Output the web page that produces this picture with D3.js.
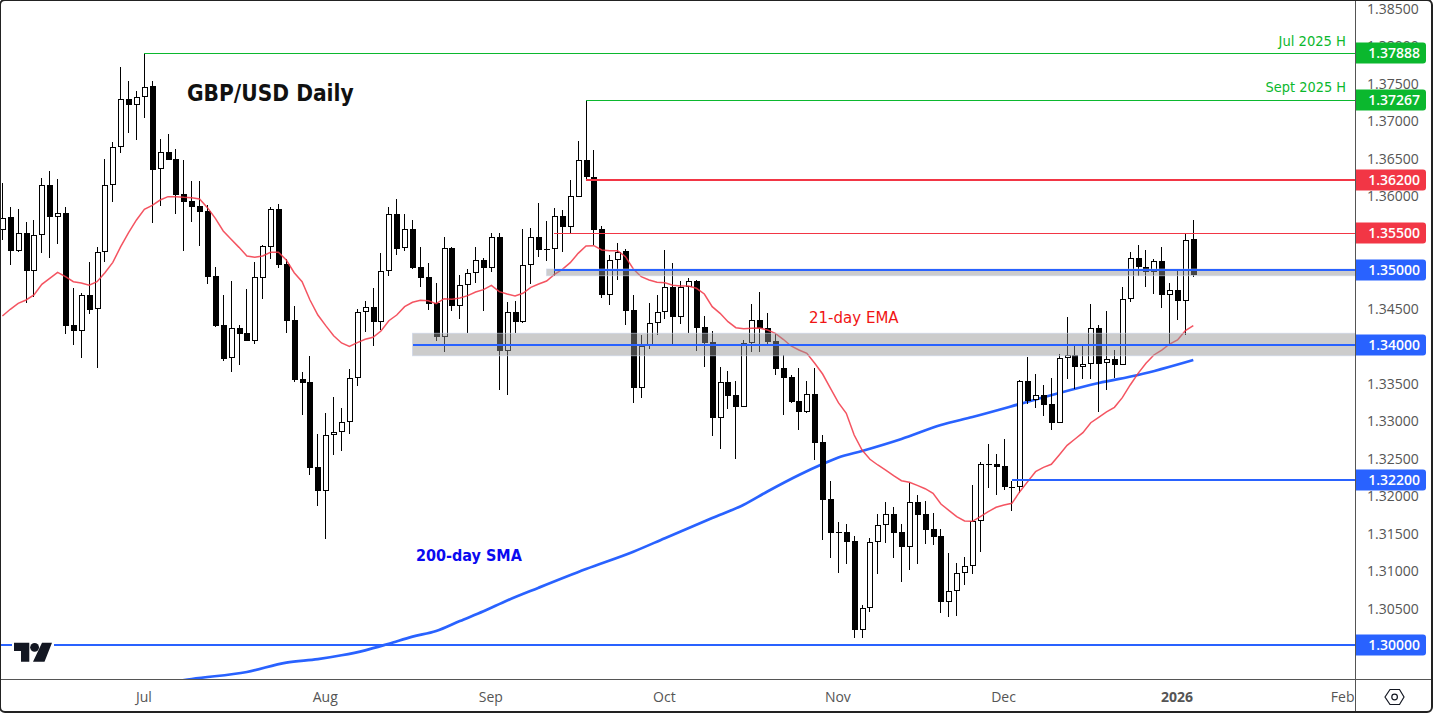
<!DOCTYPE html>
<html><head><meta charset="utf-8">
<script src="https://cdn.jsdelivr.net/npm/d3@7"></script>
<style>html,body{margin:0;padding:0;background:#fff}svg{display:block}</style>
</head><body><svg id="c" width="1433" height="715"></svg>
<script>
const opens=[1.35529,1.35702,1.35258,1.35489,1.34991,1.35462,1.36129,1.35711,1.35755,1.34262,
1.34191,1.34662,1.34476,1.35235,1.36129,1.36635,1.37275,1.37204,1.37311,1.37453,
1.36342,1.36569,1.36480,1.36009,1.35920,1.35853,1.35787,1.34916,1.34267,1.33822,
1.34227,1.34156,1.34053,1.34898,1.35311,1.35809,1.35076,1.34329,1.33547,1.33502,
1.32369,1.32058,1.32796,1.32836,1.32969,1.33556,1.34436,1.34502,1.34311,1.34982,
1.35742,1.35289,1.35542,1.35036,1.34902,1.34556,1.34111,1.35289,1.34524,1.34796,
1.34956,1.35129,1.35031,1.35436,1.33924,1.34436,1.34311,1.35062,1.35436,1.35276,
1.35276,1.35716,1.35578,1.35978,1.36462,1.36244,1.35542,1.34671,1.35129,1.35249,
1.34462,1.33431,1.33987,1.34289,1.34436,1.34769,1.34378,1.34769,1.34849,1.34236,
1.34036,1.33031,1.33502,1.33329,1.33178,1.34022,1.34329,1.34222,1.34049,1.33689,
1.33569,1.33249,1.33111,1.33342,1.32702,1.31942,1.31502,1.31502,1.31382,1.30204,
1.30489,1.31369,1.31596,1.31742,1.31502,1.31311,1.31902,1.31742,1.31542,1.31449,
1.30578,1.30716,1.30956,1.31049,1.31649,1.32409,1.32409,1.32382,1.32111,1.32111,
1.33516,1.33262,1.33329,1.33209,1.32964,1.33822,1.33862,1.33711,1.33742,1.34222,
1.33756,1.33809,1.33738,1.34609,1.35156,1.35036,1.34978,1.35116,1.34671,1.34729,1.34591,1.35409];
const highs=[1.36155,1.35835,1.35809,1.35635,1.35667,1.36222,1.36315,1.36209,1.35835,1.34760,
1.34689,1.35102,1.35302,1.36480,1.36702,1.37702,1.37515,1.37391,1.37888,1.37515,
1.36742,1.36809,1.36609,1.36462,1.36187,1.36187,1.35867,1.35036,1.34662,1.34849,
1.34267,1.34747,1.35102,1.35333,1.35835,1.35876,1.35142,1.34516,1.33640,1.33849,
1.32809,1.33089,1.33302,1.33156,1.33676,1.34476,1.34587,1.34760,1.35222,1.35836,
1.35942,1.35747,1.35662,1.35307,1.35089,1.34822,1.35436,1.35302,1.34929,1.35013,
1.35302,1.35156,1.35489,1.35489,1.34569,1.34582,1.35542,1.35556,1.35889,1.35649,
1.35822,1.35796,1.36196,1.36716,1.37267,1.36600,1.35587,1.35200,1.35356,1.35276,
1.34662,1.34133,1.34556,1.34662,1.35267,1.35089,1.34849,1.34889,1.34867,1.34382,
1.34182,1.33707,1.33653,1.33520,1.34067,1.34542,1.34702,1.34422,1.34156,1.33862,
1.33596,1.33689,1.33516,1.33689,1.32796,1.32182,1.31636,1.31613,1.31449,1.30529,
1.31422,1.31742,1.31902,1.31840,1.31609,1.32156,1.31996,1.31916,1.31756,1.31542,
1.31222,1.31089,1.31169,1.32129,1.32436,1.32680,1.32547,1.32742,1.32187,1.33529,
1.33840,1.33613,1.33467,1.33560,1.33876,1.34373,1.33996,1.33996,1.34547,1.34262,
1.34449,1.33933,1.34769,1.35240,1.35333,1.35267,1.35142,1.35302,1.34827,1.34991,1.35489,1.35667];
const lows=[1.35400,1.35067,1.35240,1.34564,1.34644,1.35231,1.35160,1.35347,1.34151,1.34000,
1.33827,1.34413,1.33698,1.35107,1.35907,1.36564,1.36826,1.36733,1.37026,1.35627,
1.35853,1.36467,1.35747,1.35253,1.35640,1.35320,1.34813,1.34240,1.33787,1.33640,
1.33733,1.34053,1.34013,1.34613,1.35147,1.35022,1.34160,1.33511,1.33067,1.32267,
1.31858,1.31418,1.32533,1.32591,1.32818,1.33458,1.34173,1.33991,1.34200,1.34924,
1.35204,1.35253,1.35013,1.34778,1.34467,1.34053,1.33907,1.34458,1.34347,1.34160,
1.34827,1.34453,1.34973,1.33400,1.33333,1.34160,1.34289,1.34813,1.35173,1.35120,
1.34924,1.35240,1.35489,1.35978,1.36200,1.35333,1.34631,1.34538,1.34867,1.34267,
1.33231,1.33298,1.33947,1.34133,1.34347,1.34009,1.34280,1.34164,1.33924,1.33711,
1.32791,1.32618,1.33151,1.32484,1.33169,1.33911,1.33911,1.34009,1.33600,1.33062,
1.33231,1.32867,1.33098,1.32467,1.31400,1.31160,1.30964,1.31080,1.30098,1.30098,
1.30444,1.30951,1.31360,1.31160,1.30844,1.31000,1.31080,1.31347,1.31333,1.30427,
1.30373,1.30387,1.30800,1.30947,1.31240,1.32093,1.32000,1.32062,1.31787,1.32022,
1.33213,1.33160,1.33053,1.32867,1.32964,1.33547,1.33409,1.33547,1.33547,1.33107,
1.33400,1.33560,1.33738,1.34573,1.34920,1.34769,1.34680,1.34493,1.34013,1.34333,1.34133,1.34911];
const closes=[1.35698,1.35258,1.35489,1.34991,1.35462,1.36129,1.35711,1.35755,1.34258,1.34191,
1.34662,1.34467,1.35235,1.36129,1.36635,1.37275,1.37204,1.37311,1.37444,1.36333,
1.36569,1.36467,1.36000,1.35907,1.35840,1.35773,1.34907,1.34253,1.33813,1.34222,
1.34147,1.34053,1.34902,1.35316,1.35809,1.35067,1.34324,1.33538,1.33498,1.32364,
1.32058,1.32796,1.32836,1.32969,1.33556,1.34436,1.34502,1.34311,1.34982,1.35742,
1.35280,1.35542,1.35027,1.34898,1.34547,1.34111,1.35289,1.34520,1.34796,1.34956,
1.35129,1.35031,1.35436,1.33920,1.34436,1.34311,1.35062,1.35436,1.35271,1.35276,
1.35716,1.35578,1.35982,1.36462,1.36240,1.35533,1.34671,1.35129,1.35244,1.34458,
1.33431,1.33987,1.34289,1.34436,1.34769,1.34378,1.34769,1.34849,1.34227,1.34031,
1.33031,1.33502,1.33324,1.33178,1.34022,1.34329,1.34222,1.34044,1.33684,1.33564,
1.33244,1.33111,1.33342,1.32698,1.31938,1.31498,1.31502,1.31378,1.30204,1.30489,
1.31369,1.31596,1.31742,1.31498,1.31311,1.31902,1.31738,1.31538,1.31444,1.30578,
1.30716,1.30956,1.31049,1.31649,1.32409,1.32409,1.32378,1.32111,1.32111,1.33516,
1.33258,1.33329,1.33200,1.32964,1.33822,1.33862,1.33711,1.33742,1.34222,1.33747,
1.33809,1.33738,1.34609,1.35156,1.35036,1.34978,1.35116,1.34671,1.34729,1.34591,1.35396,1.34938];
const ema21=[1.34387,1.34476,1.34556,1.34600,1.34667,1.34809,1.34889,1.34969,1.34911,1.34844,
1.34827,1.34796,1.34844,1.34964,1.35102,1.35311,1.35498,1.35667,1.35809,1.35862,
1.35933,1.35978,1.35978,1.35969,1.35964,1.35947,1.35831,1.35689,1.35520,1.35409,
1.35302,1.35187,1.35169,1.35187,1.35236,1.35236,1.35133,1.34964,1.34844,1.34600,
1.34400,1.34258,1.34124,1.34027,1.33982,1.34031,1.34076,1.34102,1.34187,1.34324,
1.34400,1.34511,1.34569,1.34596,1.34591,1.34551,1.34618,1.34609,1.34627,1.34658,
1.34707,1.34738,1.34796,1.34711,1.34680,1.34653,1.34689,1.34769,1.34813,1.34853,
1.34942,1.35009,1.35098,1.35222,1.35320,1.35324,1.35267,1.35258,1.35258,1.35178,
1.35013,1.34911,1.34867,1.34836,1.34831,1.34796,1.34787,1.34787,1.34756,1.34680,
1.34511,1.34422,1.34311,1.34231,1.34218,1.34222,1.34227,1.34200,1.34156,1.34076,
1.33987,1.33933,1.33889,1.33756,1.33613,1.33422,1.33231,1.33089,1.32800,1.32600,
1.32476,1.32400,1.32333,1.32258,1.32191,1.32169,1.32129,1.32084,1.32022,1.31880,
1.31796,1.31711,1.31653,1.31649,1.31711,1.31778,1.31836,1.31867,1.31889,1.32044,
1.32178,1.32311,1.32369,1.32409,1.32533,1.32662,1.32747,1.32831,1.32964,1.33036,
1.33107,1.33169,1.33298,1.33467,1.33622,1.33756,1.33867,1.33933,1.34013,1.34067,1.34191,1.34258];
const smaBars=[20,24,31,36,40,43,46,49,52,55,58,61,64,68,74,80,84,90,94,97,101,104,106,109,114,119,123,129,134,139,144,151];
const sma200=[1.29480,1.29547,1.29640,1.29765,1.29812,1.29863,1.29929,1.30017,1.30111,1.30187,1.30320,1.30449,1.30593,1.30764,1.31013,1.31244,1.31424,1.31693,1.31871,1.32047,1.32267,1.32413,1.32500,1.32587,1.32747,1.32933,1.33040,1.33213,1.33360,1.33493,1.33600,1.33800];

const priceTicks=[1.385,1.38,1.375,1.37,1.365,1.36,1.355,1.35,1.345,1.34,1.335,1.33,1.325,1.32,1.315,1.31,1.305,1.30];
const monthNames=["Jul","Aug","Sep","Oct","Nov","Dec","2026","Feb"];
const monthBars=[18,41,62,84,106,127,149,170];

const levelPrices=[1.37888,1.37267,1.362,1.355,1.35,1.34,1.322,1.30];
const levelStarts=[18,74,74,70,70,52,128,-1];
const levelColors=["#0bb82e","#0bb82e","#f23645","#f23645","#2962ff","#2962ff","#2962ff","#2962ff"];
const levelWidths=[1,1,2,1,2,2,2,2];
const bandStarts=[52,69];
const bandTops=[1.34156,1.35013];
const bandBottoms=[1.33857,1.34924];

const font="'Open Sans',sans-serif";
const noteFont="'DejaVu Sans Condensed','DejaVu Sans',sans-serif";
const W=1355,H=679;
const x=d3.scaleLinear().domain([0,151]).range([2.4,1193.3]);
const y=d3.scaleLinear().domain([1.30,1.385]).range([645,7.5]);
const svg=d3.select("#c");
svg.append("defs").append("clipPath").attr("id","pane").append("rect").attr("width",W).attr("height",H);
svg.append("rect").attr("width",1433).attr("height",715).attr("fill","#fff");
const pane=svg.append("g").attr("clip-path","url(#pane)");

// 200-day SMA, under the candles
const line=d3.line().x(d=>x(d[0])).y(d=>y(d[1])).curve(d3.curveMonotoneX);
pane.append("path").datum(smaBars.map((b,i)=>[b,sma200[i]])).attr("d",line)
  .attr("fill","none").attr("stroke","#2962ff").attr("stroke-width",2.7);

// candles
const bars=d3.range(opens.length);
const cg=pane.append("g").attr("shape-rendering","crispEdges");
const px=i=>Math.floor(x(i));
cg.selectAll("line").data(bars).join("line")
  .attr("x1",i=>px(i)+.5).attr("x2",i=>px(i)+.5)
  .attr("y1",i=>y(highs[i])).attr("y2",i=>y(lows[i]))
  .attr("stroke","#000").attr("stroke-width",1);
cg.selectAll("rect").data(bars).join("rect").each(function(i){
  const top=Math.round(y(Math.max(opens[i],closes[i]))),bot=Math.round(y(Math.min(opens[i],closes[i])));
  const up=closes[i]>opens[i], h=bot-top;
  const s=d3.select(this);
  if(up&&h>=2){ s.attr("x",px(i)-2).attr("width",5).attr("y",top+.5).attr("height",h-1).attr("fill","#fff").attr("stroke","#000"); }
  else{ s.attr("x",px(i)-2.5).attr("width",6).attr("y",top).attr("height",Math.max(h,1)).attr("fill","#000"); }
});

// 21-day EMA, over the candles
pane.append("path").datum(ema21.map((v,i)=>[i,v])).attr("d",d3.line().x(d=>x(d[0])).y(d=>y(d[1])))
  .attr("fill","none").attr("stroke","#f23645").attr("stroke-opacity",.85).attr("stroke-width",1.5);

// shaded zones
pane.selectAll("rect.band").data(bandStarts).join("rect").attr("class","band")
  .attr("x",d=>x(d)).attr("width",d=>W-x(d))
  .attr("y",(d,i)=>y(bandTops[i])).attr("height",(d,i)=>y(bandBottoms[i])-y(bandTops[i]))
  .attr("fill","rgb(146,146,146)").attr("fill-opacity",.47)
  .attr("stroke","#c6d0e6").attr("stroke-opacity",.6);

// horizontal levels
const levelY=(d,i)=>Math.round(y(d))+(levelWidths[i]===1?.5:0);
pane.selectAll("line.level").data(levelPrices).join("line").attr("class","level")
  .attr("x1",(d,i)=>levelStarts[i]<0?0:x(levelStarts[i])).attr("x2",W)
  .attr("y1",levelY).attr("y2",levelY)
  .attr("stroke",(d,i)=>levelColors[i]).attr("stroke-width",(d,i)=>levelWidths[i])
  .attr("shape-rendering","crispEdges");

// annotations
const notes=[["GBP/USD Daily",187,101,"#111","start",22.5,700],
 ["Jul 2025 H",1346,46,"#0bb82e","end",14.6,400],
 ["Sept 2025 H",1346,92,"#0bb82e","end",14.4,400],
 ["21-day EMA",809,323,"#f01414","start",16.7,400],
 ["200-day SMA",416,561,"#0a0af0","start",16,700]];
svg.selectAll("text.note").data(notes).join("text").attr("class","note")
  .attr("x",d=>d[1]).attr("y",d=>d[2]).attr("fill",d=>d[3]).attr("text-anchor",d=>d[4])
  .attr("font-size",d=>d[5]).attr("font-weight",d=>d[6]).attr("font-family",noteFont).text(d=>d[0]);

// logo
const logo=svg.append("g");
logo.append("rect").attr("x",12).attr("y",640).attr("width",42).attr("height",24).attr("fill","#fff");
logo.append("path").attr("d","M14 642.7H29.3V661.7H21V651H14ZM42 642.7H52L44.5 661.7H33Z").attr("fill","#131722");
logo.append("circle").attr("cx",34.6).attr("cy",647.3).attr("r",4.4).attr("fill","#131722");

// axis panels
svg.append("line").attr("x1",0).attr("x2",1432).attr("y1",679.5).attr("y2",679.5).attr("stroke","#555");
svg.append("line").attr("x1",1355.5).attr("x2",1355.5).attr("y1",0).attr("y2",712).attr("stroke","#555");

const yAxis=d3.axisRight(y).tickValues(priceTicks).tickSize(0).tickPadding(0).tickFormat(d3.format(".5f"));
const gy=svg.append("g").attr("transform","translate(1367,1.5)").call(yAxis);
gy.select(".domain").remove();
gy.selectAll("text").attr("fill","#555").attr("font-size",14).attr("font-family",font);

const xAxis=d3.axisBottom(x).tickValues(monthBars).tickSize(0).tickPadding(0)
  .tickFormat(d=>monthNames[monthBars.indexOf(d)]);
const gx=svg.append("g").attr("transform","translate(-1,692)").call(xAxis);
gx.select(".domain").remove();
gx.selectAll("text").attr("fill","#555").attr("font-size",14).attr("font-family",font)
  .attr("font-weight",d=>d===149?700:400);
// month labels stay inside the time scale
svg.append("rect").attr("x",1356).attr("y",680).attr("width",76).attr("height",31).attr("fill","#fff");

// level price tags
const tags=svg.selectAll("g.tag").data(levelPrices).join("g").attr("class","tag");
tags.append("path").attr("d",d=>{const t=Math.round(y(d))-10.5;return `M1356 ${t}H1423a3 3 0 0 1 3 3V${t+18}a3 3 0 0 1 -3 3H1356Z`;})
  .attr("fill",(d,i)=>levelColors[i]);
tags.append("text").attr("x",1420).attr("y",d=>Math.round(y(d))+5).attr("text-anchor","end")
  .attr("fill","#fff").attr("font-size",14).attr("font-weight",600).attr("font-family",font)
  .text(d3.format(".5f"));

// settings icon
const hx=svg.append("g").attr("fill","none").attr("stroke","#131722").attr("stroke-width",1.2);
hx.append("path").attr("d",d3.line()([[1385,697],[1390,689.5],[1399.5,689.5],[1404,697],[1399.5,704.5],[1390,704.5]])+"Z");
hx.append("circle").attr("cx",1394.6).attr("cy",697).attr("r",2.8);

// outer frame
svg.append("rect").attr("x",0).attr("y",0).attr("width",1432).attr("height",712).attr("rx",5)
  .attr("fill","none").attr("stroke","#222").attr("stroke-width",2);
</script></body></html>
